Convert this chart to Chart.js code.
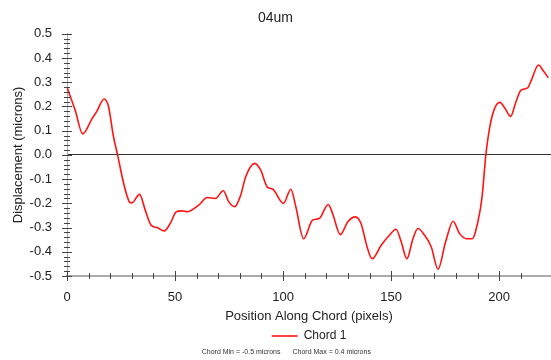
<!DOCTYPE html>
<html lang="en">
<head>
    <meta charset="UTF-8">
    <title>04um</title>
    <script src="https://cdn.jsdelivr.net/npm/chart.js"></script>
    <style>
        body { margin: 0; background: #fff; }
        #wrap { width: 551px; height: 360px; }
    </style>
</head>
<body>
    <div id="wrap">
        <canvas id="chord" width="551" height="360"></canvas>
    </div>

    <script>
        // Chord profile: position along chord (pixels) and displacement (microns)
        const positions = [0, 3.7, 7.3, 11.5, 13.8, 17.2, 19.2, 21.5, 23.4, 26.2, 28.9, 30, 33.6, 36.2, 38.9,
            41.7, 45, 47.8, 50.6, 53.3, 55.6, 61, 64.9, 68.7, 72.3, 74.9, 77.6, 80.4, 82.7, 86.9, 89.6,
            92.8, 95.1, 100.2, 103.6, 105.9, 109.5, 113.6, 116.7, 120.9, 122.9, 126.5, 129.9, 133.4, 136.1,
            138.9, 141.2, 145.4, 149.2, 152.3, 154.7, 157.3, 160.1, 162.4, 165.5, 168.6, 171.7, 175.2,
            178.7, 181.7, 184.9, 187.5, 190.3, 192.1, 193.8, 195.7, 198, 200.3, 202.6, 205.3, 207.6, 210.1,
            213.2, 215, 218.2, 220.5, 222.8];
        const displacement = [0.279, 0.187, 0.087, 0.148, 0.18, 0.231, 0.2, 0.076, 0, -0.117, -0.194, -0.198, -0.163, -0.228, -0.29,
            -0.3, -0.314, -0.283, -0.235, -0.231, -0.235, -0.207, -0.176, -0.18, -0.148, -0.194, -0.214, -0.166, -0.09, -0.035, -0.062,
            -0.134, -0.141, -0.2, -0.142, -0.214, -0.346, -0.27, -0.263, -0.205, -0.242, -0.329, -0.277, -0.256, -0.284,
            -0.38, -0.429, -0.373, -0.332, -0.307, -0.36, -0.429, -0.346, -0.304, -0.332, -0.38, -0.472, -0.36,
            -0.274, -0.325, -0.346, -0.346, -0.27, -0.173, -0.004, 0.117, 0.194, 0.217, 0.194, 0.159, 0.214, 0.267,
            0.277, 0.311, 0.371, 0.346, 0.318];

        const chordMin = -0.5;
        const chordMax = 0.4;

        const FONT = "'Liberation Sans', Arial, sans-serif";

        // cross-shaped tick marks on both axes, plus the min/max note under the legend
        const axisMarks = {
            id: 'axisMarks',
            afterDraw(chart) {
                const { ctx, scales: { x, y } } = chart;
                ctx.save();
                ctx.strokeStyle = '#444';
                ctx.lineWidth = 1;
                y.ticks.forEach(t => {
                    const py = Math.round(y.getPixelForValue(t.value)) + 0.5;
                    const major = Math.abs(Math.round(t.value * 50)) % 5 === 0;
                    const len = major ? 5 : 3;
                    ctx.beginPath();
                    ctx.moveTo(x.left - len, py);
                    ctx.lineTo(x.left + len, py);
                    ctx.stroke();
                });
                x.ticks.forEach(t => {
                    if (Math.round(t.value) % 10 !== 0) return;
                    const px = Math.round(x.getPixelForValue(t.value)) + 0.5;
                    const len = t.value % 50 === 0 ? 5 : 3;
                    ctx.beginPath();
                    ctx.moveTo(px, y.bottom - len);
                    ctx.lineTo(px, y.bottom + len);
                    ctx.stroke();
                });

                ctx.font = '7px ' + FONT;
                ctx.fillStyle = '#333';
                ctx.textBaseline = 'middle';
                ctx.textAlign = 'right';
                const cx = chart.width / 2 + 11;
                const fy = chart.height - 8;
                ctx.fillText('Chord Min = ' + chordMin + ' microns', cx - 6, fy);
                ctx.textAlign = 'left';
                ctx.fillText('Chord Max = ' + chordMax + ' microns', cx + 6, fy);
                ctx.restore();
            }
        };

        new Chart(document.getElementById('chord'), {
            type: 'line',
            data: {
                datasets: [{
                    label: 'Chord 1',
                    data: positions.map((p, i) => ({ x: p, y: displacement[i] })),
                    borderColor: 'rgb(255, 20, 20)',
                    backgroundColor: 'rgb(255, 20, 20)',
                    borderWidth: 1.6,
                    pointRadius: 0,
                    cubicInterpolationMode: 'monotone',
                    fill: false
                }]
            },
            options: {
                responsive: false,
                animation: false,
                layout: { padding: { left: 0, right: 0, top: 0, bottom: 8 } },
                plugins: {
                    title: {
                        display: true,
                        text: '04um',
                        color: '#222',
                        font: { family: FONT, size: 14, weight: 'normal' },
                        padding: { top: 10, bottom: 7 }
                    },
                    legend: {
                        position: 'bottom',
                        fullSize: false,
                        labels: {
                            usePointStyle: true,
                            pointStyle: 'line',
                            pointStyleWidth: 26,
                            color: '#222',
                            font: { family: FONT, size: 12 },
                            padding: 4
                        }
                    },
                    tooltip: { enabled: false }
                },
                scales: {
                    x: {
                        type: 'linear',
                        min: 0,
                        max: 224,
                        border: { color: '#aaa', width: 2 },
                        grid: { display: false, drawTicks: false },
                        ticks: {
                            stepSize: 10,
                            autoSkip: false,
                            maxRotation: 0,
                            padding: 14,
                            color: '#222',
                            font: { family: FONT, size: 13 },
                            callback: v => (v % 50 === 0 ? v : '')
                        },
                        title: {
                            display: true,
                            text: 'Position Along Chord (pixels)',
                            color: '#222',
                            font: { family: FONT, size: 13 },
                            padding: { top: 3, bottom: 2 }
                        },
                        afterFit: s => { s.paddingRight = 0; s.height = 50; }
                    },
                    y: {
                        min: -0.5,
                        max: 0.5,
                        border: { color: '#aaa', width: 1 },
                        grid: {
                            drawTicks: false,
                            color: c => (Math.abs(c.tick.value) < 1e-9 ? '#333' : 'transparent'),
                            lineWidth: 1
                        },
                        ticks: {
                            stepSize: 0.02,
                            autoSkip: false,
                            padding: 15,
                            color: '#222',
                            font: { family: FONT, size: 13 },
                            callback: v => (Math.abs(Math.round(v * 50)) % 5 === 0 ? v.toFixed(1) : '')
                        },
                        title: {
                            display: true,
                            text: 'Displacement (microns)',
                            color: '#222',
                            font: { family: FONT, size: 13 },
                            padding: { top: 11, bottom: 0 }
                        },
                        afterFit: s => { s.width = 67; }
                    }
                }
            },
            plugins: [axisMarks]
        });
    </script>
</body>
</html>
